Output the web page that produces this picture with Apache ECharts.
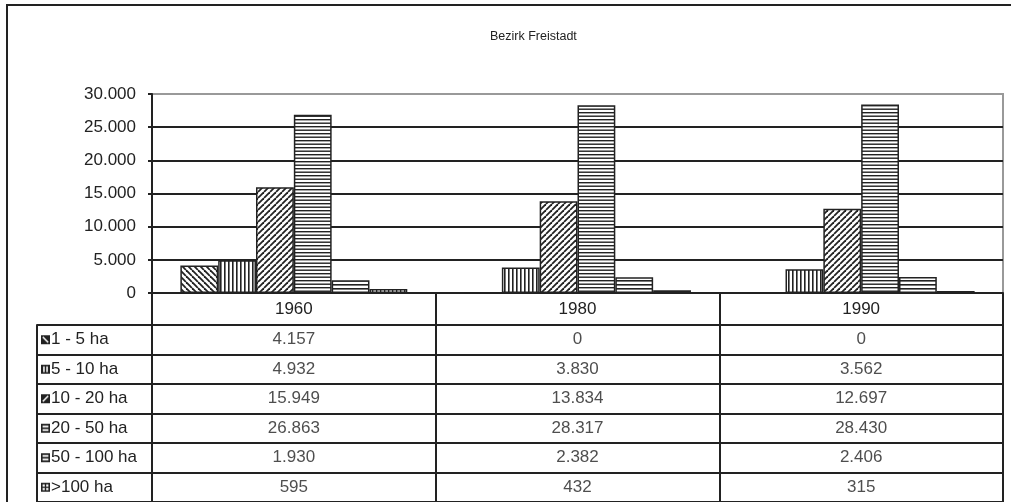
<!DOCTYPE html>
<html><head><meta charset="utf-8">
<script src="https://cdn.jsdelivr.net/npm/echarts@6/dist/echarts.min.js"></script>
<style>html,body{margin:0;padding:0;background:#fff}#c{width:1011px;height:502px}</style>
</head><body><div id="c"></div>
<script>
const years = ['1960', '1980', '1990'];
const classes = ['1 - 5 ha', '5 - 10 ha', '10 - 20 ha', '20 - 50 ha', '50 - 100 ha', '>100 ha'];
const ha1_5 = [4157, 0, 0];
const ha5_10 = [4932, 3830, 3562];
const ha10_20 = [15949, 13834, 12697];
const ha20_50 = [26863, 28317, 28430];
const ha50_100 = [1930, 2382, 2406];
const ha100plus = [595, 432, 315];
const yTicks = [0, 5000, 10000, 15000, 20000, 25000, 30000];
const seriesValues = [ha1_5, ha5_10, ha10_20, ha20_50, ha50_100, ha100plus];
const patternTypes = ['back', 'vert', 'fwd', 'horiz', 'horiz2', 'grid'];

const INK = '#222';
const FONT = '"Liberation Sans", Arial, sans-serif';
const FS = 17;

function fmt(v) { return String(v).replace(/\B(?=(\d{3})+(?!\d))/g, '.'); }

function makePattern(type) {
  let s = 6;
  if (type === 'vert' || type === 'horiz2' || type === 'grid') s = 4;
  if (type === 'horiz') s = 7;
  const c = document.createElement('canvas'); c.width = s; c.height = s;
  const g = c.getContext('2d');
  g.fillStyle = '#fff'; g.fillRect(0, 0, s, s);
  g.fillStyle = INK; g.strokeStyle = INK;
  if (type === 'back' || type === 'fwd') {
    g.lineWidth = 1.8;
    for (let x = -s; x <= s; x += s) {
      g.beginPath();
      if (type === 'back') { g.moveTo(x, 0); g.lineTo(x + s, s); }
      else { g.moveTo(x, s); g.lineTo(x + s, 0); }
      g.stroke();
    }
  } else if (type === 'vert') {
    g.fillRect(0, 0, 1.6, s);
  } else if (type === 'horiz') {
    g.fillRect(0, 0, s, 1.4); g.fillRect(0, 3.5, s, 1.4);
  } else if (type === 'horiz2') {
    g.fillRect(0, 0, s, 1.6);
  } else if (type === 'grid') {
    g.fillRect(0, 0, s, 1.3); g.fillRect(0, 0, 1.3, s);
  }
  return c;
}

function makeIcon(type) {
  const n = 9;
  const c = document.createElement('canvas'); c.width = n; c.height = n;
  const g = c.getContext('2d');
  g.fillStyle = INK; g.fillRect(0, 0, n, n);
  g.fillStyle = '#fff'; g.strokeStyle = '#fff'; g.lineWidth = 1.5;
  if (type === 'back') { g.beginPath(); g.moveTo(1.8, 1.8); g.lineTo(7.2, 7.2); g.stroke(); }
  else if (type === 'fwd') { g.beginPath(); g.moveTo(1.8, 7.2); g.lineTo(7.2, 1.8); g.stroke(); }
  else if (type === 'vert') { g.fillRect(2.2, 1.6, 1.5, 5.8); g.fillRect(5.3, 1.6, 1.5, 5.8); }
  else if (type === 'horiz' || type === 'horiz2') { g.fillRect(1.6, 1.8, 5.8, 1.8); g.fillRect(1.6, 5.4, 5.8, 1.8); }
  else if (type === 'grid') {
    g.fillRect(1.6, 1.6, 2.2, 2.2); g.fillRect(5.2, 1.6, 2.2, 2.2);
    g.fillRect(1.6, 5.2, 2.2, 2.2); g.fillRect(5.2, 5.2, 2.2, 2.2);
  }
  return c;
}

const rich = { t: { fontSize: FS, color: INK, fontFamily: FONT, padding: [0, 0, 0, 1] } };
patternTypes.forEach((p, i) => {
  rich['i' + i] = { width: 9, height: 9, backgroundColor: { image: makeIcon(p) } };
});

const barSeries = classes.map((name, i) => ({
  name: name,
  type: 'bar',
  xAxisIndex: 0, yAxisIndex: 0,
  data: seriesValues[i],
  barGap: '0%',
  barCategoryGap: '20%',
  itemStyle: {
    color: { image: makePattern(patternTypes[i]), repeat: 'repeat' },
    borderColor: INK, borderWidth: 1.5
  },
  emphasis: { disabled: true },
  silent: true
}));

const cellData = [];
seriesValues.forEach((vals, r) => vals.forEach((v, c) => cellData.push([c, r, v])));

const chart = echarts.init(document.getElementById('c'), null, { renderer: 'canvas' });
chart.setOption({
  animation: false,
  backgroundColor: '#fff',
  title: {
    text: 'Bezirk Freistadt', left: 485, top: 25,
    textStyle: { fontSize: 12.5, fontWeight: 'normal', color: INK, fontFamily: FONT }
  },
  graphic: [{
    type: 'rect', shape: { x: 7, y: 5, width: 1100, height: 600 },
    style: { fill: 'none', stroke: INK, lineWidth: 2 }, silent: true, z: 100
  }],
  grid: [
    { left: 152, width: 851, top: 94, height: 199, show: true, borderColor: '#999', borderWidth: 2, backgroundColor: 'transparent' },
    { left: 152, width: 851, top: 325, height: 180, show: true, borderColor: INK, borderWidth: 2, backgroundColor: 'transparent' }
  ],
  xAxis: [
    {
      gridIndex: 0, type: 'category', data: years, boundaryGap: true,
      axisLine: { show: true, lineStyle: { color: INK, width: 2 } },
      axisTick: { show: true, interval: 0, length: 32, lineStyle: { color: INK, width: 2 } },
      axisLabel: { show: true, interval: 0, margin: 8, fontSize: FS, color: INK, fontFamily: FONT },
      splitLine: { show: false }
    },
    {
      gridIndex: 1, type: 'category', data: years, boundaryGap: true, position: 'top',
      axisLine: { show: true, lineStyle: { color: INK, width: 2 } },
      axisTick: { show: false }, axisLabel: { show: false },
      splitLine: { show: true, interval: 0, lineStyle: { color: INK, width: 2 } }
    }
  ],
  yAxis: [
    {
      gridIndex: 0, type: 'value', min: 0, max: 30000, interval: 5000,
      axisLine: { show: true, lineStyle: { color: INK, width: 2 } },
      axisTick: { show: true, length: 4, lineStyle: { color: INK, width: 2 } },
      axisLabel: { margin: 16, fontSize: FS, color: INK, fontFamily: FONT, formatter: v => fmt(v) },
      splitLine: { show: true, lineStyle: { color: yTicks.map(t => t === 30000 ? '#999' : INK), width: 2 } }
    },
    {
      gridIndex: 1, type: 'category', data: classes, inverse: true, boundaryGap: true,
      axisLine: { show: true, lineStyle: { color: INK, width: 2 } },
      axisTick: { show: true, interval: 0, length: 115, lineStyle: { color: INK, width: 2 } },
      axisLabel: {
        show: true, interval: 0, align: 'left', margin: 111,
        formatter: (val, idx) => '{i' + idx + '|}{t|' + val + '}', rich: rich
      },
      splitLine: { show: true, interval: 0, lineStyle: { color: INK, width: 2 } }
    },
    {
      gridIndex: 1, type: 'category', data: classes, inverse: true, position: 'left', offset: 115,
      axisLine: { show: true, lineStyle: { color: INK, width: 2 } },
      axisTick: { show: false }, axisLabel: { show: false }, splitLine: { show: false }
    }
  ],
  series: barSeries.concat([{
    type: 'scatter', xAxisIndex: 1, yAxisIndex: 1,
    data: cellData, symbolSize: 0, silent: true,
    itemStyle: { color: 'transparent' },
    label: {
      show: true, position: 'inside', fontSize: FS, color: INK, fontFamily: FONT,
      formatter: p => fmt(p.value[2])
    }
  }])
});
</script>
</body></html>
